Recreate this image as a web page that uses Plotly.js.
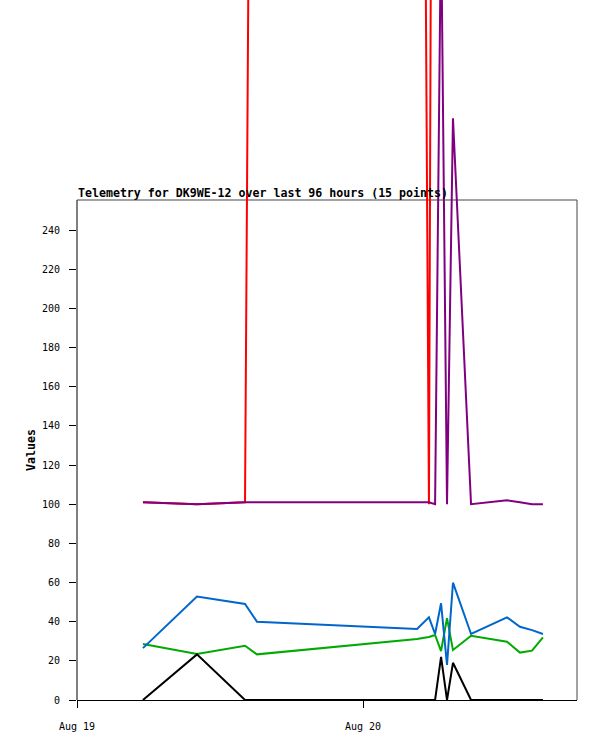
<!DOCTYPE html>
<html>
<head>
<meta charset="utf-8">
<script src="https://cdn.plot.ly/plotly-3.0.1.min.js"></script>
<style>html,body{margin:0;padding:0;background:#fff;}#chart{width:597px;height:741px;}</style>
</head>
<body>
<div id="chart"></div>
<script>
const times = ['2024-08-19 05:32','2024-08-19 10:04','2024-08-19 14:06','2024-08-19 15:06','2024-08-20 04:32','2024-08-20 05:32','2024-08-20 06:03','2024-08-20 06:33','2024-08-20 07:03','2024-08-20 07:33','2024-08-20 09:04','2024-08-20 12:05','2024-08-20 13:10','2024-08-20 14:11','2024-08-20 15:06'];
const redValues    = [101, 100, 101, 1050, 1100, 100, 1000, 1000, 1000, 1000, 1000, 1000, 1000, 1000, 1000];
const purpleValues = [101, 100, 101, 101, 101, 101, 100, 400, 100, 297, 100, 102, 101, 100, 100];
const greenValues  = [28.6, 23.5, 27.7, 23.3, 31.1, 32.2, 33.2, 25, 41.8, 25.5, 32.8, 29.8, 24.2, 25.2, 32.0];
const blueValues   = [26.5, 52.8, 49, 40, 36.3, 42.2, 33.7, 49.4, 17.9, 59.9, 33.7, 42.2, 37.4, 35.7, 33.7];
const blackValues  = [0, 23.3, 0, 0, 0, 0, 0, 22, 0, 19, 0, 0, 0, 0, 0];
const yTicks = [0, 20, 40, 60, 80, 100, 120, 140, 160, 180, 200, 220, 240];
const xTicks = ['2024-08-19', '2024-08-20'];
const titleText = 'Telemetry for DK9WE-12 over last 96 hours (15 points)';
const yTitle = 'Values';

const boxTop = 255.32;
const mono = 'DejaVu Sans Mono, monospace';

function line(vals, color) {
  return {x: times, y: vals, type: 'scatter', mode: 'lines',
          line: {color: color, width: 2}, hoverinfo: 'skip', cliponaxis: false};
}
const data = [
  line(redValues, '#ff0000'),
  line(purpleValues, '#800080'),
  line(greenValues, '#00aa00'),
  line(blueValues, '#0066cc'),
  line(blackValues, '#000000')
];

const layout = {
  width: 597, height: 741,
  margin: {l: 77, r: 20, t: 0, b: 41, pad: 0},
  paper_bgcolor: '#ffffff', plot_bgcolor: '#ffffff',
  showlegend: false,
  font: {family: mono, size: 10, color: '#000'},
  xaxis: {
    type: 'date',
    range: ['2024-08-19 00:00', '2024-08-20 17:57:30'],
    tickvals: xTicks, tickformat: '%b %d',
    ticks: 'outside', ticklen: 7, tickcolor: '#000', tickwidth: 1,
    showline: true, linecolor: '#000', linewidth: 1,
    showgrid: false, zeroline: false,
    tickfont: {family: mono, size: 10, color: '#000'},
    ticklabelstandoff: 10
  },
  yaxis: {
    range: [0, 357.45],
    tickvals: yTicks,
    ticks: 'outside', ticklen: 7, tickcolor: '#000', tickwidth: 1,
    showline: false, showgrid: false, zeroline: false,
    tickfont: {family: mono, size: 10, color: '#000'},
    ticklabelstandoff: 7
  },
  shapes: [
    {type: 'line', xref: 'paper', yref: 'y', x0: 0, x1: 0, y0: 0, y1: boxTop, line: {color: '#000', width: 1}, layer: 'below'},
    {type: 'line', xref: 'paper', yref: 'y', x0: 0, x1: 1, y0: boxTop, y1: boxTop, line: {color: '#444', width: 1}, layer: 'below'},
    {type: 'line', xref: 'paper', yref: 'y', x0: 1, x1: 1, y0: 0, y1: boxTop, line: {color: '#444', width: 1}, layer: 'below'}
  ],
  annotations: [
    {text: '<b>' + titleText + '</b>', xref: 'paper', yref: 'y', x: 0, y: boxTop,
     xanchor: 'left', yanchor: 'bottom', showarrow: false, borderpad: 0, yshift: -1,
     font: {family: mono, size: 11.6, color: '#000'}},
    {text: '<b>' + yTitle + '</b>', xref: 'paper', yref: 'y', x: 0, y: boxTop / 2,
     xanchor: 'center', yanchor: 'middle', xshift: -46, textangle: -90, showarrow: false,
     font: {family: mono, size: 11.6, color: '#000'}}
  ]
};

Plotly.newPlot('chart', data, layout, {displayModeBar: false, staticPlot: true});
</script>
</body>
</html>
